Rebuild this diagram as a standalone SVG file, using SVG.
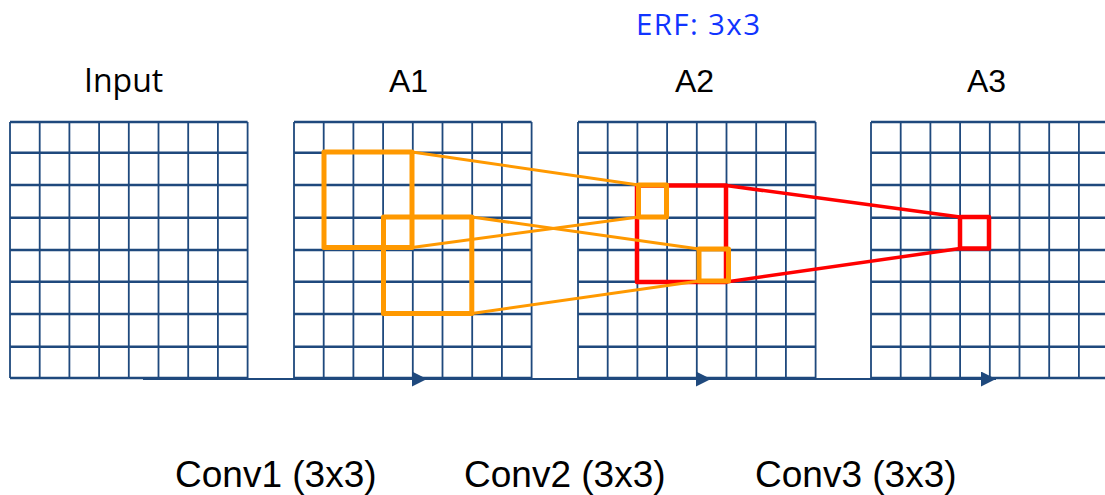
<svg xmlns="http://www.w3.org/2000/svg" xmlns:xlink="http://www.w3.org/1999/xlink" width="1105" height="495" viewBox="0 0 1105 495">
  <style>
    .gv { stroke: #1F497D; stroke-width: 1.8; fill: none; }
    .gh { stroke: #1F497D; stroke-width: 2.4; fill: none; }
    .lbl { font-family: "Liberation Sans", Arial, sans-serif; font-size: 32px; fill: #000; }
    .conv { font-family: "Liberation Sans", Arial, sans-serif; font-size: 37px; fill: #000; }
    .erf { font-family: "Open Sans", "Liberation Sans", sans-serif; font-size: 29.5px; fill: #1034FF; }
    .inp { font-family: "Open Sans", "Liberation Sans", sans-serif; font-size: 32px; fill: #000; }
    .obox { fill: none; stroke: #FF9900; stroke-width: 5; stroke-linejoin: round; }
    .oline { stroke: #FF9900; stroke-width: 3; fill: none; }
    .rbox { fill: none; stroke: #FF0000; stroke-width: 4.5; stroke-linejoin: round; }
    .rline { stroke: #FF0000; stroke-width: 3.5; fill: none; }
    .conn { stroke: #1F497D; stroke-width: 2; fill: none; }
  </style>
  <defs>
    <g id="grid">
      <path class="gv" d="M0,0 V256 M29.7,0 V256 M59.4,0 V256 M89.1,0 V256 M118.8,0 V256 M148.5,0 V256 M178.2,0 V256 M207.9,0 V256 M237.6,0 V256"/>
      <path class="gh" d="M0,0 H237.6 M0,30.7 H237.6 M0,63 H237.6 M0,95.7 H237.6 M0,128 H237.6 M0,159.7 H237.6 M0,192 H237.6 M0,224.7 H237.6 M0,256 H237.6"/>
    </g>
    <marker id="arrow" markerUnits="userSpaceOnUse" markerWidth="15" markerHeight="15" refX="15" refY="7.5" orient="auto">
      <path d="M0,0 L15,7.5 L0,15 z" fill="#1F497D"/>
    </marker>
  </defs>
  <rect width="1105" height="495" fill="#ffffff"/>

  <text class="erf" x="636" y="35" textLength="124" lengthAdjust="spacing">ERF: 3x3</text>

  <g id="input">
    <use xlink:href="#grid" href="#grid" x="10" y="122"/>
    <text class="inp" x="84" y="92">Input</text>
  </g>
  <g id="a1">
    <use xlink:href="#grid" href="#grid" x="294" y="122"/>
    <text class="lbl" x="389" y="92">A1</text>
  </g>
  <g id="a2">
    <use xlink:href="#grid" href="#grid" x="578" y="122"/>
    <text class="lbl" x="675" y="92">A2</text>
  </g>
  <g id="a3">
    <use xlink:href="#grid" href="#grid" x="871" y="122"/>
    <text class="lbl" x="967" y="92">A3</text>
  </g>

  <g id="connectors">
    <line class="conn" x1="143" y1="379" x2="427" y2="379" marker-end="url(#arrow)"/>
    <line class="conn" x1="427" y1="379" x2="711" y2="379" marker-end="url(#arrow)"/>
    <line class="conn" x1="711" y1="379" x2="996" y2="379" marker-end="url(#arrow)"/>
  </g>

  <g id="receptive-fields">
    <line class="rline" x1="726" y1="185.5" x2="960" y2="217"/>
    <line class="rline" x1="726" y1="282" x2="960" y2="248.5"/>
    <rect class="rbox" x="637" y="185.5" width="89" height="96.5"/>
    <rect class="rbox" x="960" y="217" width="29" height="31.5"/>
    <line class="oline" x1="412" y1="152" x2="638.5" y2="185"/>
    <line class="oline" x1="412" y1="247.5" x2="638.5" y2="217"/>
    <line class="oline" x1="471.8" y1="217" x2="699" y2="249"/>
    <line class="oline" x1="471.8" y1="313.5" x2="699" y2="281"/>
    <rect class="obox" x="324" y="152" width="88" height="95.5"/>
    <rect class="obox" x="383.5" y="217" width="88.3" height="96.5"/>
    <rect class="obox" x="638.5" y="185" width="28" height="32"/>
    <rect class="obox" x="699" y="249" width="29.5" height="32"/>
  </g>

  <g id="conv-labels">
    <text class="conv" x="175" y="487">Conv1 (3x3)</text>
    <text class="conv" x="464" y="487">Conv2 (3x3)</text>
    <text class="conv" x="755" y="487">Conv3 (3x3)</text>
  </g>
</svg>
